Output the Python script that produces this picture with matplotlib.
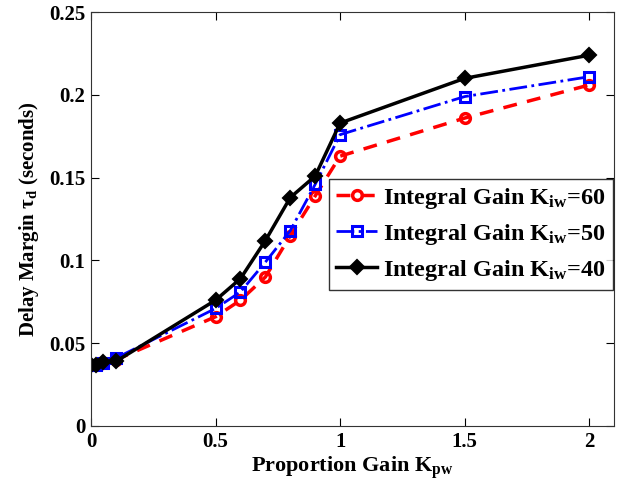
import matplotlib
matplotlib.use("Agg")
import matplotlib.pyplot as plt

plt.rcParams['font.family'] = ['Liberation Serif', 'DejaVu Serif']
plt.rcParams['font.weight'] = 'bold'
plt.rcParams['mathtext.fontset'] = 'custom'
plt.rcParams['mathtext.rm'] = 'Liberation Serif:bold'
plt.rcParams['mathtext.it'] = 'Liberation Serif:bold'
plt.rcParams['mathtext.bf'] = 'Liberation Serif:bold'

# Proportional gain values and delay margins for three integral gains
kpw = [0, 0.02, 0.05, 0.1, 0.5, 0.6, 0.7, 0.8, 0.9, 1.0, 1.5, 2.0]
tau_ki60 = [0.037, 0.037, 0.038, 0.040, 0.066, 0.076, 0.090, 0.115, 0.139, 0.163, 0.186, 0.206]
tau_ki50 = [0.037, 0.037, 0.038, 0.041, 0.071, 0.081, 0.099, 0.118, 0.146, 0.176, 0.199, 0.211]
tau_ki40 = [0.037, 0.037, 0.0385, 0.039, 0.076, 0.089, 0.112, 0.138, 0.151, 0.183, 0.210, 0.224]

labels = [r'Integral Gain K$_{\mathrm{iw}}$=60',
          r'Integral Gain K$_{\mathrm{iw}}$=50',
          r'Integral Gain K$_{\mathrm{iw}}$=40']

fig = plt.figure(figsize=(6.26, 4.86), dpi=100)
ax = fig.add_axes([0.1454, 0.1235, 0.981 - 0.1454, 0.975 - 0.1235])

ax.plot(kpw, tau_ki60, color='#ff0000', linestyle='--', linewidth=2.5,
        marker='o', markersize=7, markerfacecolor='none', markeredgewidth=2.5,
        dashes=(4, 3), label=labels[0])
ax.plot(kpw, tau_ki50, color='#0000ff', linestyle='-.', linewidth=2,
        marker='s', markersize=6.5, markerfacecolor='none', markeredgewidth=2.2,
        label=labels[1])
ax.plot(kpw, tau_ki40, color='black', linestyle='-', linewidth=2.5,
        marker='D', markersize=7, markerfacecolor='black', markeredgewidth=1.5,
        label=labels[2])

ax.set_xlim(0, 2.1)
ax.set_ylim(0, 0.25)
ax.set_xticks([0, 0.5, 1, 1.5, 2])
ax.set_xticklabels(['0', '0.5', '1', '1.5', '2'])
ax.set_yticks([0, 0.05, 0.1, 0.15, 0.2, 0.25])
ax.set_yticklabels(['0', '0.05', '0.1', '0.15', '0.2', '0.25'])
ax.tick_params(direction='in', top=True, right=True, labelsize=15, length=6,
               width=0.8, pad=4)
for lab in ax.get_xticklabels() + ax.get_yticklabels():
    lab.set_fontweight('bold')
for s in ax.spines.values():
    s.set_linewidth(0.8)
    s.set_color('#333333')

ax.set_xlabel(r'Proportion Gain K$_{\mathrm{pw}}$', fontsize=16, fontweight='bold', labelpad=2)
ax.set_ylabel(r'Delay Margin $\tau_{\mathrm{d}}$ (seconds)', fontsize=15, fontweight='bold', labelpad=6)

leg = ax.legend(loc='lower right', bbox_to_anchor=(0.998, 0.3285), fontsize=17.5,
                frameon=True, fancybox=False, edgecolor='black', handlelength=1.7,
                borderpad=0.3, labelspacing=0.45, handletextpad=0.25,
                borderaxespad=0.0)
leg.get_frame().set_linewidth(1.0)

fig.savefig('out.png', dpi=100)
